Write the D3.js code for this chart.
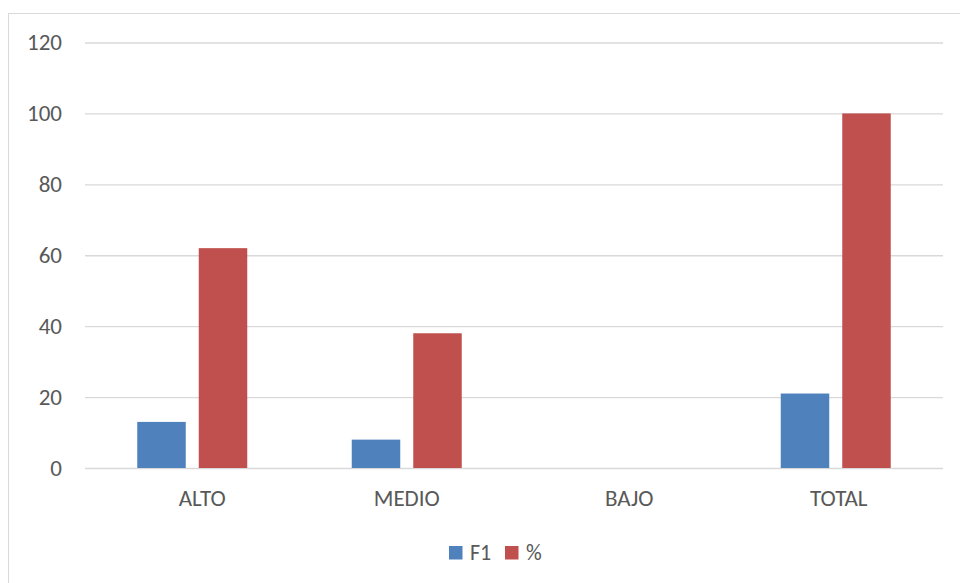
<!DOCTYPE html>
<html>
<head>
<meta charset="utf-8">
<script src="https://cdn.jsdelivr.net/npm/d3@7"></script>
<style>
  html, body { margin: 0; padding: 0; background: #fff; }
  svg { display: block; font-family: Carlito, Calibri, Roboto, sans-serif; }
</style>
</head>
<body>
<svg id="chart" width="960" height="583"></svg>
<script>
// values
const categories = ['ALTO', 'MEDIO', 'BAJO', 'TOTAL'];
const seriesNames = ['F1', '%'];
const f1Values = [13, 8, 0, 21];
const pctValues = [62, 38, 0, 100];
const yTicks = [0, 20, 40, 60, 80, 100, 120];
const colors = ['#4f81bd', '#c0504d'];

// the original labels sit a little off the band centres
const labelNudge = [10, 0, 8, 3];

const svg = d3.select('#chart');

const plot = { left: 85, right: 943, top: 42.5, bottom: 468 };

// chart frame (right and bottom edges run off the page)
svg.append('rect')
    .attr('x', 8.5)
    .attr('y', 13.5)
    .attr('width', 1000)
    .attr('height', 1000)
    .attr('fill', 'none')
    .attr('stroke', '#d9d9d9')
    .attr('stroke-width', 1);

const x = d3.scaleBand()
    .domain(categories)
    .range([plot.left, plot.right]);

const y = d3.scaleLinear()
    .domain([0, 120])
    .range([plot.bottom, plot.top]);

// bar width and spacing inside each category
const barW = 48.5;
const innerGap = 13;
const xs = d3.scaleBand()
    .domain(seriesNames)
    .range([0, 2 * barW + innerGap])
    .paddingInner(innerGap / (barW + innerGap));

// gridlines
const yAxis = d3.axisLeft(y)
    .tickValues(yTicks)
    .tickSize(-(plot.right - plot.left))
    .tickPadding(23);

const gy = svg.append('g')
    .attr('transform', `translate(${plot.left},0)`)
    .call(yAxis);
gy.select('.domain').remove();
gy.selectAll('.tick line')
    .attr('stroke', '#d9d9d9')
    .attr('stroke-width', 1.3);
gy.selectAll('.tick text')
    .attr('fill', '#595959')
    .attr('font-size', '23px')
    .attr('dy', '0.32em');

// category labels
const xAxis = d3.axisBottom(x).tickSize(0).tickPadding(22);
const gx = svg.append('g')
    .attr('transform', `translate(0,${plot.bottom})`)
    .call(xAxis);
gx.select('.domain').remove();
gx.selectAll('.tick text')
    .attr('fill', '#595959')
    .attr('font-size', '23px')
    .attr('dx', (d, i) => labelNudge[i]);
gx.attr('font-family', null);
gy.attr('font-family', null);

// bars
const rows = categories.map((c, i) => ({ cat: c, vals: [f1Values[i], pctValues[i]] }));

const groups = svg.append('g')
    .selectAll('g')
    .data(rows)
    .join('g')
    .attr('transform', d => `translate(${x(d.cat) + x.bandwidth() / 2 - xs.range()[1] / 2},0)`);

groups.selectAll('rect')
    .data(d => d.vals.map((v, j) => ({ name: seriesNames[j], v: v, j: j })))
    .join('rect')
    .attr('x', d => xs(d.name))
    .attr('width', xs.bandwidth())
    .attr('y', d => y(d.v))
    .attr('height', d => y(0) - y(d.v))
    .attr('fill', d => colors[d.j]);

// legend
const legend = svg.append('g').attr('transform', 'translate(449,546)');
const items = [
    { name: seriesNames[0], color: colors[0], x: 0 },
    { name: seriesNames[1], color: colors[1], x: 56 }
];
const li = legend.selectAll('g')
    .data(items)
    .join('g')
    .attr('transform', d => `translate(${d.x},0)`);
li.append('rect')
    .attr('width', 13.5)
    .attr('height', 13.5)
    .attr('fill', d => d.color);
li.append('text')
    .attr('x', 21)
    .attr('y', 13.5)
    .attr('fill', '#595959')
    .attr('font-size', '22px')
    .text(d => d.name);
</script>
</body>
</html>
